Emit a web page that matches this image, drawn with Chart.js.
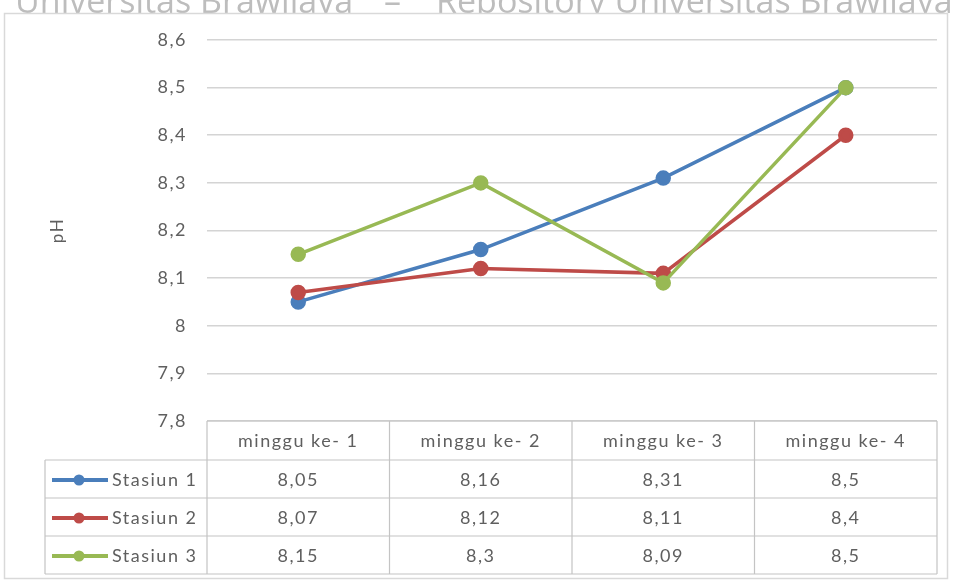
<!DOCTYPE html>
<html>
<head>
<meta charset="utf-8">
<script src="https://cdn.jsdelivr.net/npm/chart.js@4.4.1/dist/chart.umd.min.js"></script>
<style>
  html, body { margin: 0; padding: 0; background: #fff; }
  canvas { display: block; }
</style>
</head>
<body>
<canvas id="c" width="953" height="581"></canvas>
<script>
// Weekly pH readings at three sampling stations
const categories = ['minggu ke- 1', 'minggu ke- 2', 'minggu ke- 3', 'minggu ke- 4'];
const seriesNames = ['Stasiun 1', 'Stasiun 2', 'Stasiun 3'];
const stasiun1 = [8.05, 8.16, 8.31, 8.5];
const stasiun2 = [8.07, 8.12, 8.11, 8.4];
const stasiun3 = [8.15, 8.3, 8.09, 8.5];
const yMin = 7.8, yMax = 8.6, yStep = 0.1;
const yTitle = 'pH';
const headerLeft = 'Universitas Brawijaya';
const headerDash = '–';
const headerRight = 'Repository Universitas Brawijaya';

const colors = ['#4A7EBB', '#BE4B48', '#98B954'];
const seriesValues = [stasiun1, stasiun2, stasiun3];
const TEXT = '#5f5f5f';
const FONT = 'Lato, "Open Sans", sans-serif';
const comma = v => String(Math.round(v * 100) / 100).replace('.', ',');

// Frame, header text, axis title and the data table under the plot
const decorations = {
  id: 'decorations',
  beforeDraw(chart) {
    const ctx = chart.ctx;
    ctx.save();
    ctx.fillStyle = '#fff';
    ctx.fillRect(0, 0, chart.width, chart.height);
    // header text, cut by the top of the chart frame
    ctx.save();
    ctx.beginPath();
    ctx.rect(0, 0, chart.width, 13);
    ctx.clip();
    ctx.fillStyle = '#bdbdbd';
    ctx.font = '34px "Open Sans", sans-serif';
    ctx.textBaseline = 'alphabetic';
    ctx.textAlign = 'left';
    ctx.fillText(headerLeft, 15, 13);
    ctx.fillText(headerDash, 384, 13);
    ctx.fillText(headerRight, 436, 13);
    ctx.restore();
    // chart frame
    ctx.strokeStyle = '#d9d9d9';
    ctx.lineWidth = 1.5;
    ctx.strokeRect(4.5, 13.5, 943, 565);
    ctx.restore();
    // slightly open letter spacing for all chart text
    ctx.letterSpacing = '1.5px';
  },
  afterDraw(chart) {
    const ctx = chart.ctx;
    const x = chart.scales.x;
    const area = chart.chartArea;
    const half = (x.getPixelForValue(1) - x.getPixelForValue(0)) / 2;
    const left = x.getPixelForValue(0) - half;
    const right = x.getPixelForValue(categories.length - 1) + half;
    const legendLeft = 45;
    const headTop = area.bottom;
    const headH = 39, rowH = 38;
    const bottom = headTop + headH + rowH * seriesNames.length;

    ctx.save();
    ctx.letterSpacing = '1.5px';
    // axis title
    ctx.save();
    ctx.translate(58, (area.top + area.bottom) / 2);
    ctx.rotate(-Math.PI / 2);
    ctx.fillStyle = TEXT;
    ctx.font = '17px ' + FONT;
    ctx.textAlign = 'center';
    ctx.textBaseline = 'middle';
    ctx.fillText(yTitle, 0, 0);
    ctx.restore();

    // table grid
    ctx.strokeStyle = '#c4c4c4';
    ctx.lineWidth = 1.2;
    ctx.beginPath();
    ctx.moveTo(left, headTop); ctx.lineTo(right, headTop);
    for (let r = 0; r <= seriesNames.length; r++) {
      const y = headTop + headH + r * rowH;
      ctx.moveTo(legendLeft, y); ctx.lineTo(right, y);
    }
    ctx.moveTo(legendLeft, headTop + headH); ctx.lineTo(legendLeft, bottom);
    for (let i = 0; i <= categories.length; i++) {
      const cx = left + i * half * 2;
      ctx.moveTo(cx, headTop); ctx.lineTo(cx, bottom);
    }
    ctx.stroke();

    ctx.font = '18px ' + FONT;
    ctx.fillStyle = TEXT;
    ctx.textBaseline = 'middle';
    ctx.textAlign = 'center';
    categories.forEach((c, i) => {
      ctx.fillText(c, x.getPixelForValue(i), headTop + headH / 2 + 1);
    });
    seriesNames.forEach((name, r) => {
      const cy = headTop + headH + r * rowH + rowH / 2 + 1;
      // legend key
      ctx.strokeStyle = colors[r];
      ctx.lineWidth = 4;
      ctx.beginPath();
      ctx.moveTo(52, cy); ctx.lineTo(108, cy);
      ctx.stroke();
      ctx.fillStyle = colors[r];
      ctx.beginPath();
      ctx.arc(79, cy, 5.5, 0, Math.PI * 2);
      ctx.fill();
      ctx.fillStyle = TEXT;
      ctx.textAlign = 'left';
      ctx.fillText(name, 112, cy);
      ctx.textAlign = 'center';
      seriesValues[r].forEach((v, i) => {
        ctx.fillText(comma(v), x.getPixelForValue(i), cy);
      });
    });
    ctx.restore();
  }
};

new Chart(document.getElementById('c'), {
  type: 'line',
  data: {
    labels: categories,
    datasets: seriesNames.map((name, i) => ({
      label: name,
      data: seriesValues[i],
      borderColor: colors[i],
      backgroundColor: colors[i],
      pointBackgroundColor: colors[i],
      pointBorderColor: colors[i],
      borderWidth: 3.5,
      pointRadius: 6,
      pointHoverRadius: 6,
      tension: 0,
      order: seriesNames.length - i
    }))
  },
  options: {
    responsive: false,
    animation: false,
    events: [],
    layout: { padding: { top: 40, bottom: 160, right: 16, left: 0 } },
    plugins: { legend: { display: false }, tooltip: { enabled: false } },
    scales: {
      x: {
        display: false,
        offset: true
      },
      y: {
        min: yMin,
        max: yMax,
        afterFit(scale) { scale.width = 207; },
        border: { display: false },
        grid: { color: '#d4d4d4', lineWidth: 1.5, drawTicks: false },
        ticks: {
          stepSize: yStep,
          padding: 20,
          color: TEXT,
          font: { family: FONT, size: 18 },
          callback: v => comma(v)
        }
      }
    }
  },
  plugins: [decorations]
});
</script>
</body>
</html>
